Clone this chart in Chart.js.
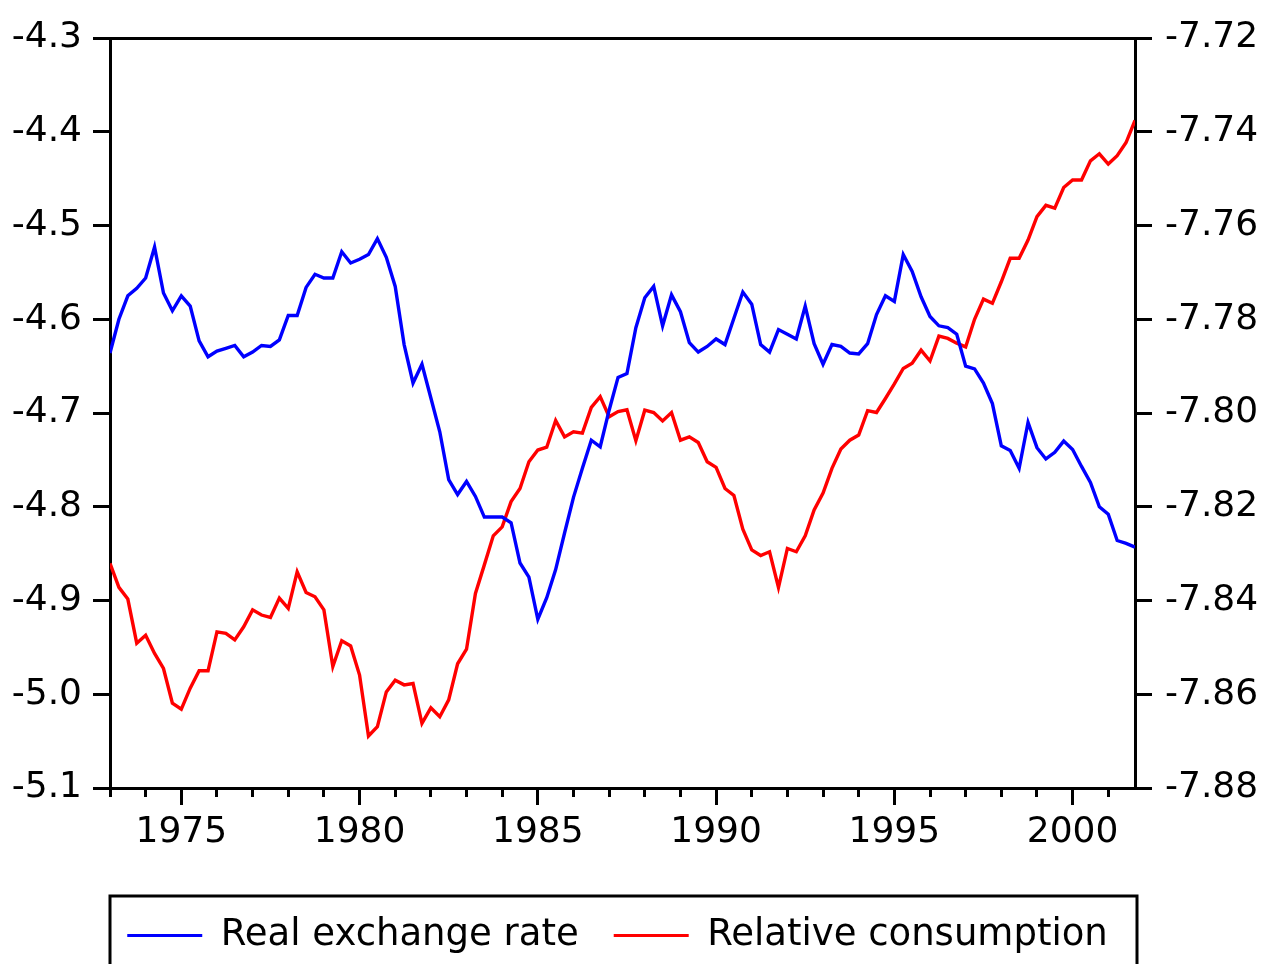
<!DOCTYPE html>
<html>
<head>
<meta charset="utf-8">
<script src="https://cdn.jsdelivr.net/npm/chart.js@4.4.1/dist/chart.umd.min.js"></script>
<style>
  html, body { margin: 0; padding: 0; background: #ffffff; }
  #wrap { width: 1266px; height: 964px; }
</style>
</head>
<body>
<div id="wrap"><canvas id="c" width="1266" height="964"></canvas></div>
<script>
// ---- Data (quarterly, 1973Q1 - 2001Q4) ----
const startYear = 1973;
const seriesNames = ['Real exchange rate', 'Relative consumption'];

const realExchangeRate = [
  -4.636,-4.600,-4.575,-4.567,-4.556,-4.523,-4.572,-4.591,
  -4.575,-4.586,-4.623,-4.640,-4.634,-4.631,-4.628,-4.640,
  -4.635,-4.628,-4.629,-4.622,-4.596,-4.596,-4.566,-4.552,
  -4.556,-4.556,-4.528,-4.540,-4.536,-4.531,-4.514,-4.534,
  -4.565,-4.627,-4.668,-4.648,-4.684,-4.720,-4.771,-4.787,
  -4.773,-4.789,-4.811,-4.811,-4.811,-4.817,-4.860,-4.875,
  -4.920,-4.897,-4.867,-4.828,-4.790,-4.759,-4.729,-4.736,
  -4.697,-4.662,-4.658,-4.609,-4.577,-4.565,-4.607,-4.574,
  -4.592,-4.625,-4.635,-4.629,-4.621,-4.627,-4.599,-4.571,
  -4.584,-4.627,-4.635,-4.611,-4.616,-4.621,-4.586,-4.626,
  -4.648,-4.627,-4.629,-4.636,-4.637,-4.626,-4.595,-4.575,
  -4.581,-4.531,-4.549,-4.576,-4.597,-4.607,-4.609,-4.616,
  -4.650,-4.653,-4.668,-4.690,-4.735,-4.740,-4.759,-4.710,
  -4.737,-4.749,-4.742,-4.730,-4.739,-4.757,-4.774,-4.800,
  -4.808,-4.836,-4.839,-4.843
];

const relativeConsumption = [
  -7.8321,-7.8372,-7.8397,-7.8491,-7.8474,-7.8513,-7.8545,-7.8619,
  -7.8632,-7.8587,-7.8550,-7.8550,-7.8467,-7.8470,-7.8484,-7.8456,
  -7.8420,-7.8431,-7.8436,-7.8395,-7.8417,-7.8339,-7.8383,-7.8392,
  -7.8420,-7.8541,-7.8486,-7.8497,-7.8559,-7.8689,-7.8669,-7.8595,
  -7.8570,-7.8580,-7.8577,-7.8662,-7.8629,-7.8648,-7.8612,-7.8535,
  -7.8504,-7.8385,-7.8324,-7.8262,-7.8243,-7.8189,-7.8161,-7.8104,
  -7.8079,-7.8073,-7.8016,-7.8051,-7.8040,-7.8043,-7.7988,-7.7965,
  -7.8008,-7.7997,-7.7993,-7.8059,-7.7994,-7.7999,-7.8017,-7.7999,
  -7.8058,-7.8051,-7.8063,-7.8104,-7.8116,-7.8161,-7.8176,-7.8248,
  -7.8292,-7.8304,-7.8296,-7.8372,-7.8289,-7.8296,-7.8262,-7.8207,
  -7.8171,-7.8118,-7.8077,-7.8058,-7.8047,-7.7995,-7.7999,-7.7969,
  -7.7938,-7.7905,-7.7894,-7.7866,-7.7889,-7.7836,-7.7841,-7.7851,
  -7.7859,-7.7800,-7.7757,-7.7766,-7.7720,-7.7670,-7.7670,-7.7631,
  -7.7581,-7.7557,-7.7563,-7.7519,-7.7503,-7.7503,-7.7462,-7.7447,
  -7.7469,-7.7451,-7.7423,-7.7376
];

const majorYearTicks = [1975, 1980, 1985, 1990, 1995, 2000];
const minorYearTicks = [1973,1974,1975,1976,1977,1978,1979,1980,1981,1982,1983,1984,1985,1986,1987,
                        1988,1989,1990,1991,1992,1993,1994,1995,1996,1997,1998,1999,2000,2001];
const leftTicks  = [-5.1, -5.0, -4.9, -4.8, -4.7, -4.6, -4.5, -4.4, -4.3];
const rightTicks = [-7.88, -7.86, -7.84, -7.82, -7.80, -7.78, -7.76, -7.74, -7.72];
const xMin = 1973, xMax = 2001.75;

// ---- Build ----
const toPoints = arr => arr.map((v, i) => ({ x: startYear + i / 4, y: v }));

Chart.defaults.font.family = "'DejaVu Sans', sans-serif";
Chart.defaults.color = '#000000';

const legendFrame = {
  id: 'legendFrame',
  afterLayout(chart) {
    const lg = chart.legend, ca = chart.chartArea;
    if (!lg) return;
    // keep the row centred under the plot area while leaving room so it does not wrap
    const sum = ca.left - 10 + ca.right;
    lg.right = chart.width;
    lg.left = sum - lg.right;
    lg.width = lg.right - lg.left;
  },
  afterDraw(chart) {
    const lg = chart.legend, ca = chart.chartArea, ctx = chart.ctx;
    if (!lg) return;
    ctx.save();
    ctx.strokeStyle = '#000000';
    ctx.lineWidth = 3;
    ctx.strokeRect(ca.left, lg.top + 14, ca.right - ca.left + 2, 200);
    ctx.restore();
  }
};

const blackGrid = (len) => ({
  display: true, drawOnChartArea: false, drawTicks: true,
  tickLength: len, tickWidth: 3, tickColor: '#000000', color: '#000000', lineWidth: 3
});

new Chart(document.getElementById('c'), {
  type: 'line',
  data: {
    datasets: [
      { label: seriesNames[0], data: toPoints(realExchangeRate), yAxisID: 'y', xAxisID: 'x',
        borderColor: '#0000FF', backgroundColor: '#0000FF', borderWidth: 3.4,
        pointRadius: 0, tension: 0 },
      { label: seriesNames[1], data: toPoints(relativeConsumption), yAxisID: 'y2', xAxisID: 'x',
        borderColor: '#FF0000', backgroundColor: '#FF0000', borderWidth: 3.4,
        pointRadius: 0, tension: 0 }
    ]
  },
  options: {
    responsive: false,
    animation: false,
    devicePixelRatio: 1,
    layout: { padding: { top: 38, left: 0, right: 0, bottom: 0 } },
    plugins: {
      tooltip: { enabled: false },
      legend: {
        position: 'bottom',
        fullSize: true,
        labels: {
          font: { size: 37 },
          color: '#000000',
          boxWidth: 75,
          boxHeight: 3,
          padding: 35,
          generateLabels(chart) {
            const items = Chart.defaults.plugins.legend.labels.generateLabels(chart);
            items.forEach(it => { it.lineWidth = 0; });
            return items;
          }
        }
      }
    },
    scales: {
      x: {
        type: 'linear', position: 'bottom', weight: 1, min: xMin, max: xMax,
        afterBuildTicks: a => { a.ticks = majorYearTicks.map(v => ({ value: v })); },
        afterFit: a => { a.height = 94; },
        ticks: { autoSkip: false, maxRotation: 0, padding: 6, font: { size: 36 },
                 color: '#000000', callback: v => String(v) },
        grid: blackGrid(17),
        border: { display: true, width: 3, color: '#000000' }
      },
      xMinor: {
        type: 'linear', position: 'bottom', weight: 0, min: xMin, max: xMax,
        afterBuildTicks: a => { a.ticks = minorYearTicks.map(v => ({ value: v })); },
        afterFit: a => { a.height = 0; },
        ticks: { display: false },
        grid: blackGrid(9),
        border: { display: false }
      },
      xTop: {
        type: 'linear', position: 'top', min: xMin, max: xMax,
        afterFit: a => { a.height = 0; },
        ticks: { display: false },
        grid: { display: true, drawOnChartArea: false, drawTicks: false, color: '#000000', lineWidth: 3 },
        border: { display: true, width: 3, color: '#000000' }
      },
      y: {
        type: 'linear', position: 'left', min: -5.1, max: -4.3,
        afterBuildTicks: a => { a.ticks = leftTicks.map(v => ({ value: v })); },
        afterFit: a => { a.width = 110; },
        ticks: { padding: 11, font: { size: 36 }, color: '#000000', callback: v => Number(v).toFixed(1) },
        grid: blackGrid(17),
        border: { display: true, width: 3, color: '#000000' }
      },
      y2: {
        type: 'linear', position: 'right', min: -7.88, max: -7.72,
        afterBuildTicks: a => { a.ticks = rightTicks.map(v => ({ value: v })); },
        afterFit: a => { a.width = 131; },
        ticks: { padding: 13, font: { size: 36 }, color: '#000000', callback: v => Number(v).toFixed(2) },
        grid: blackGrid(17),
        border: { display: true, width: 3, color: '#000000' }
      }
    }
  },
  plugins: [legendFrame]
});
</script>
</body>
</html>
